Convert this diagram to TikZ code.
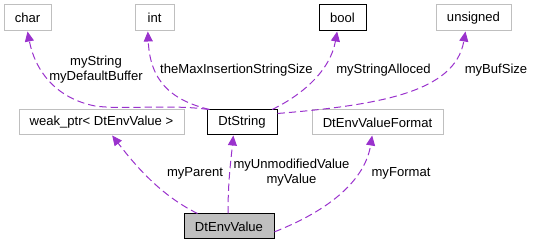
\documentclass[tikz,border=0pt]{standalone}
\usepackage{fontspec}
\setmainfont{Liberation Sans}
\usetikzlibrary{arrows.meta}
\definecolor{edgecol}{HTML}{9A32CD}
\definecolor{greybd}{HTML}{BFBFBF}
\begin{document}
\begin{tikzpicture}[x=0.75pt,y=-0.75pt,
  font=\fontsize{9.8}{11.25}\selectfont,
  box/.style={draw=greybd,line width=0.75pt,inner sep=0pt,minimum height=19.5pt,fill=white},
  blackbox/.style={box,draw=black},
  mainbox/.style={box,draw=black,fill=greybd},
  rel/.style={draw=edgecol,line width=0.75pt,dash pattern=on 5.5pt off 3pt,
    -{Triangle[length=7.5pt,width=6.75pt,fill=edgecol]}},
  lbl/.style={align=center,inner sep=0pt}]
\useasboundingbox (0,0) rectangle (535,245);
% nodes
\node[box,minimum width=35.25pt] (char) at (27.5,18) {char};
\node[box,minimum width=29.25pt] (int) at (154.5,18) {int};
\node[blackbox,minimum width=35.25pt] (bool) at (342.5,18) {bool};
\node[box,minimum width=56.25pt] (unsigned) at (473.5,18) {unsigned};
\node[box,minimum width=123.75pt,minimum height=18.75pt] (weak) at (101.5,122.5) {weak\_ptr< DtEnvValue >};
\node[blackbox,minimum width=52.5pt,minimum height=18.75pt] (dtstring) at (242,122.5) {DtString};
\node[box,minimum width=98.25pt,minimum height=18.75pt] (format) at (377.5,122.5) {DtEnvValueFormat};
\node[mainbox,minimum width=67.5pt,minimum height=18.75pt] (envvalue) at (229,226.5) {DtEnvValue};
% edges
\draw[rel] ([xshift=1.5pt]dtstring.north west) .. controls (170,104) and (125,110) .. (95,106)
   .. controls (55,98) and (35,70) .. (char.south);
\draw[rel] ([xshift=2.25pt]dtstring.north west) .. controls (170,100) and (150,80) .. ([xshift=-5pt]int.south);
\draw[rel] ([xshift=-4pt]dtstring.north east) .. controls (300,96) and (330,72) .. ([xshift=-4pt]bool.south);
\draw[rel] ([yshift=-3pt]dtstring.north east) .. controls (380,105) and (455,92) .. ([xshift=-6pt]unsigned.south);
\draw[rel] ([xshift=10.5pt]envvalue.north west) .. controls (160,195) and (135,165) .. ([xshift=8pt]weak.south);
\draw[rel] ([xshift=-0.75pt]envvalue.north) .. controls (228,180) and (231,160) .. ([xshift=-6.5pt]dtstring.south);
\draw[rel] ([yshift=-4pt]envvalue.east) .. controls (330,210) and (365,180) .. ([xshift=-4pt]format.south);
% labels
\node[lbl] (l1) at (96,70) {myString\\myDefaultBuffer};
\node[lbl] (l2) at (236.5,70) {theMaxInsertionStringSize};
\node[lbl] (l3) at (383.5,70) {myStringAlloced};
\node[lbl] (l4) at (496,70) {myBufSize};
\node[lbl] (l5) at (195,173) {myParent};
\node[lbl] (l6) at (291.5,173) {myUnmodifiedValue\\myValue};
\node[lbl] (l7) at (401,173) {myFormat};
\end{tikzpicture}
\end{document}
